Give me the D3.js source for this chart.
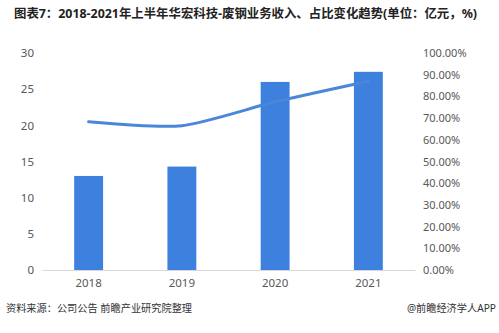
<html>
<head>
<meta charset="utf-8">
<script src="https://d3js.org/d3.v7.min.js"></script>
<style>
  body { margin: 0; background: #fff; }
  text { font-family: "Noto Sans", "Noto Sans CJK SC", sans-serif; }
</style>
</head>
<body>
<script>
var years = ["2018", "2019", "2020", "2021"];
var revenue = [13.0, 14.3, 26.0, 27.4];       // 亿元
var share = [68.3, 66.5, 77.5, 87.0];          // %
var leftTicks = [0, 5, 10, 15, 20, 25, 30];
var rightTicks = [0, 10, 20, 30, 40, 50, 60, 70, 80, 90, 100];

var width = 499, height = 333;
var svg = d3.select("body").append("svg")
  .attr("width", width)
  .attr("height", height);

var x = d3.scaleBand().domain(years).range([42, 415]).paddingInner(0.69).paddingOuter(0.345);
var y = d3.scaleLinear().domain([0, 30]).range([270, 53]);
var y2 = d3.scaleLinear().domain([0, 100]).range([270, 53]);

// title
svg.append("text")
  .attr("x", 14).attr("y", 18)
  .attr("font-size", 12.4).attr("font-weight", "bold").attr("fill", "#222")
  .attr("font-family", "Noto Sans CJK SC")
  .text("图表7：2018-2021年上半年华宏科技-废钢业务收入、占比变化趋势(单位：亿元，%)");

// left axis
var yAxis = d3.axisLeft(y).tickValues(leftTicks).tickSize(0).tickPadding(8);
var gL = svg.append("g").attr("transform", "translate(42,0)").call(yAxis);
gL.select(".domain").remove();
gL.selectAll("text").attr("font-size", 11.5).attr("fill", "#595959").attr("x", -8);

// right axis
var y2Axis = d3.axisRight(y2).tickValues(rightTicks).tickSize(0).tickPadding(0)
  .tickFormat(function(d) { return d.toFixed(2) + "%"; });
var gR = svg.append("g").attr("transform", "translate(423,0)").call(y2Axis);
gR.select(".domain").remove();
gR.selectAll("text").attr("font-size", 11).attr("fill", "#595959");

// bars
svg.selectAll(".bar")
  .data(revenue)
  .enter().append("rect")
  .attr("class", "bar")
  .attr("x", function(d, i) { return x(years[i]); })
  .attr("width", x.bandwidth())
  .attr("y", function(d) { return y(d); })
  .attr("height", function(d) { return y(0) - y(d); })
  .attr("fill", "#3e80de");

// x axis
var xAxis = d3.axisBottom(x).tickSize(0).tickPadding(9);
var gX = svg.append("g").attr("transform", "translate(0,270)").call(xAxis);
gX.select(".domain").attr("stroke", "#d9d9d9");
gX.selectAll("text").attr("font-size", 11.5).attr("fill", "#595959");

// share line
var line = d3.line()
  .x(function(d, i) { return x(years[i]) + x.bandwidth() / 2; })
  .y(function(d) { return y2(d); })
  .curve(d3.curveCardinal.tension(0.3));

svg.append("path")
  .datum(share)
  .attr("d", line)
  .attr("fill", "none")
  .attr("stroke", "#4a86da")
  .attr("stroke-width", 3)
  .attr("stroke-linecap", "round");

// footer
svg.append("text")
  .attr("x", 6).attr("y", 312)
  .attr("font-size", 10.2).attr("fill", "#333")
  .attr("font-family", "Noto Sans CJK SC")
  .text("资料来源：公司公告 前瞻产业研究院整理");

svg.append("text")
  .attr("x", 496).attr("y", 312)
  .attr("text-anchor", "end")
  .attr("font-size", 10.2).attr("fill", "#333")
  .attr("font-family", "Noto Sans CJK SC")
  .text("@前瞻经济学人APP");
</script>
</body>
</html>
